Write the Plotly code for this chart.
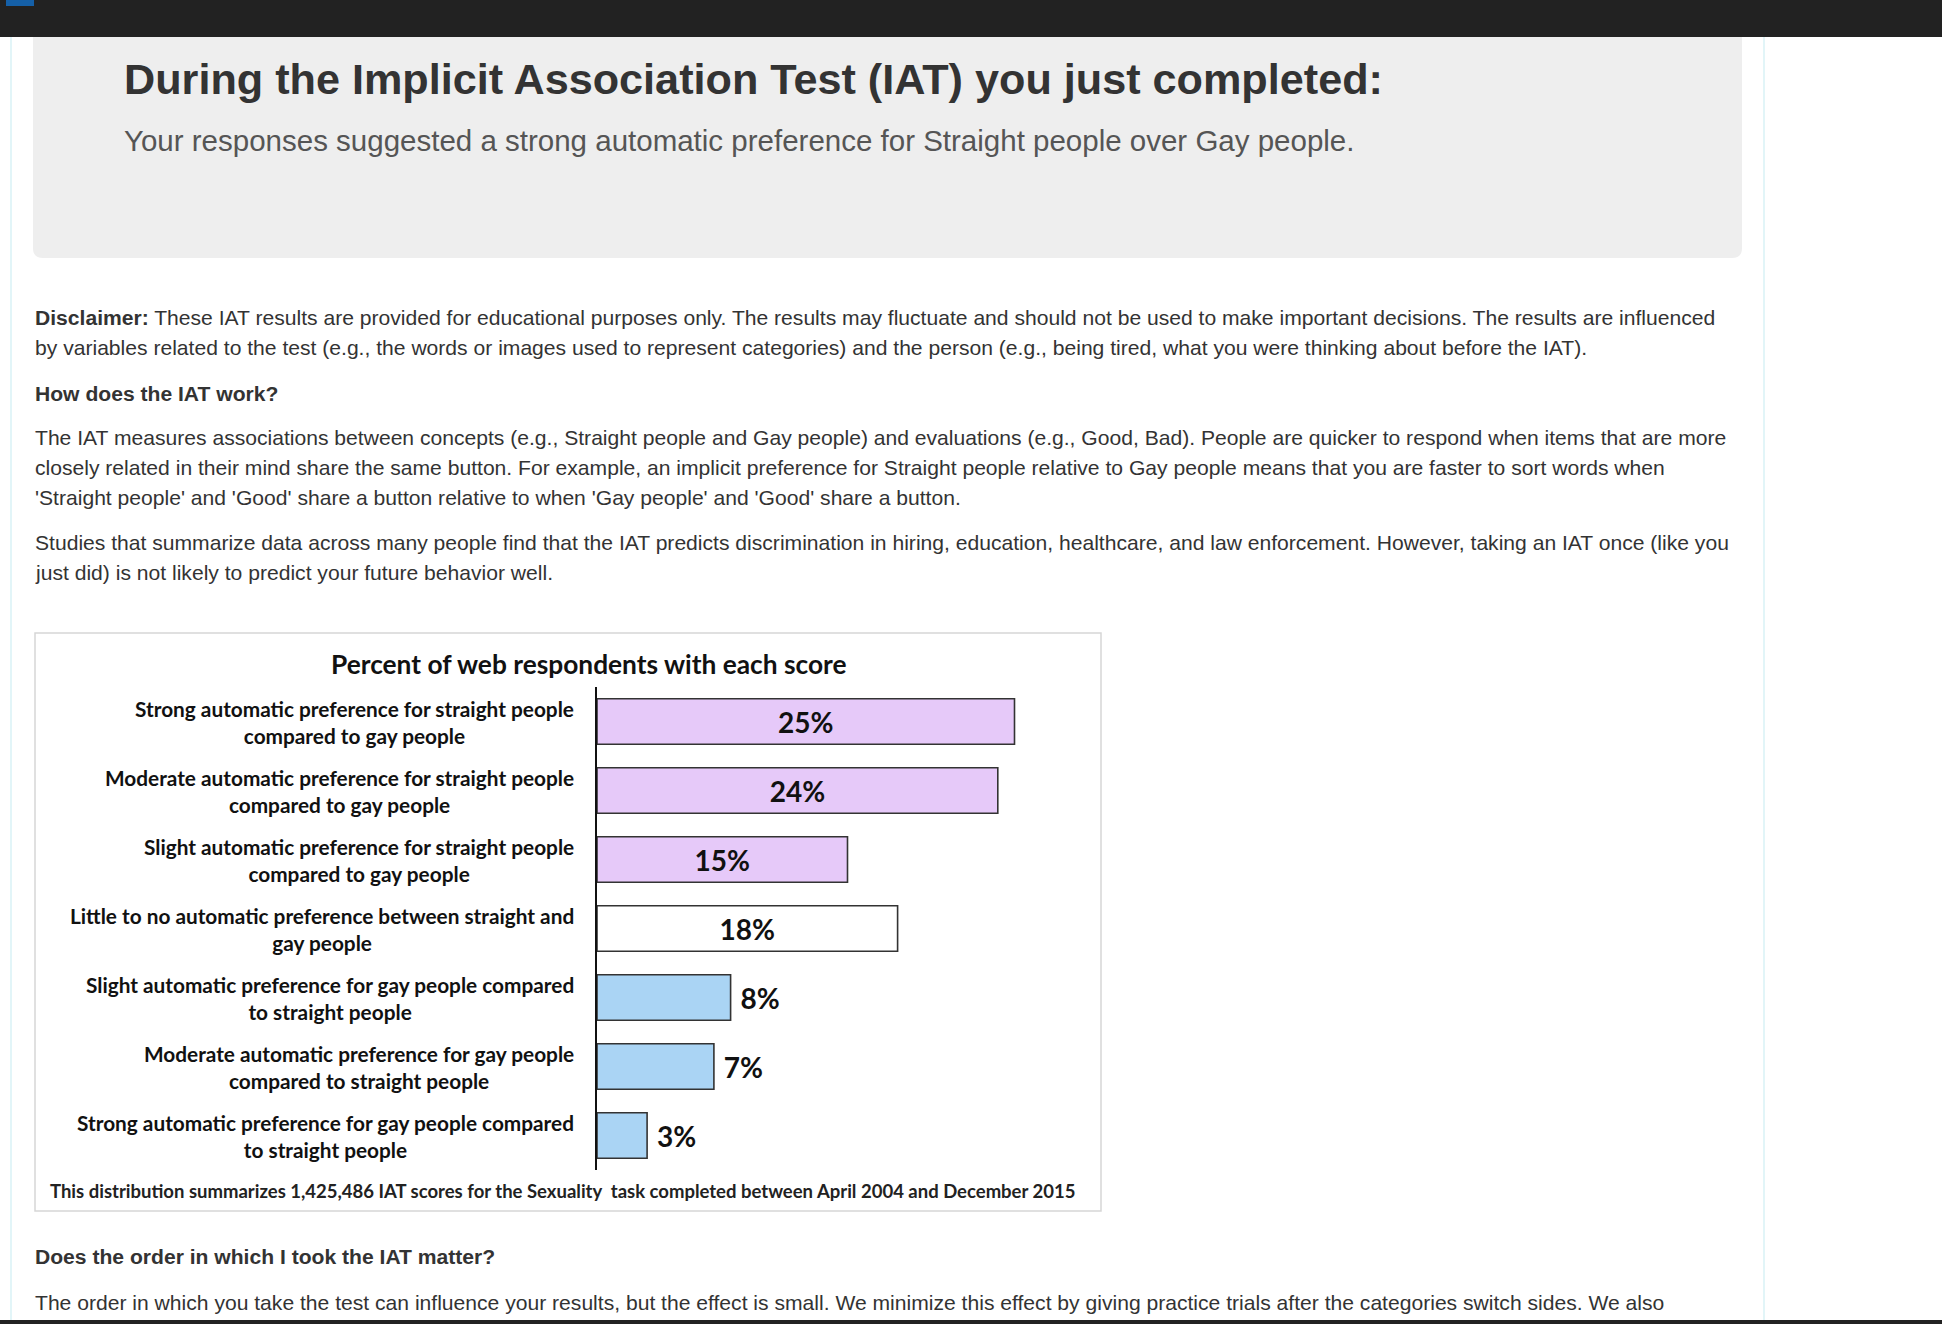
import plotly.graph_objects as go

W, H = 1942, 1324

# chart data
categories = ["s_str", "m_str", "sl_str", "none", "sl_gay", "m_gay", "s_gay"]
category_labels = [
    "Strong automatic preference for straight people<br>compared to gay people",
    "Moderate automatic preference for straight people<br>compared to gay people",
    "Slight automatic preference for straight people<br>compared to gay people",
    "Little to no automatic preference between straight and<br>gay people",
    "Slight automatic preference for gay people compared<br>to straight people",
    "Moderate automatic preference for gay people<br>compared to straight people",
    "Strong automatic preference for gay people compared<br>to straight people",
]
percents = [25, 24, 15, 18, 8, 7, 3]
bar_colors = ["#e6c9f9", "#e6c9f9", "#e6c9f9", "#ffffff", "#aad4f4", "#aad4f4", "#aad4f4"]
label_pos = ["inside", "inside", "inside", "inside", "outside", "outside", "outside"]

chart_title = "Percent of web respondents with each score"
chart_note = ("This distribution summarizes 1,425,486 IAT scores for the Sexuality  task "
              "completed between April 2004 and December 2015")

# page text
page_title = "During the Implicit Association Test (IAT) you just completed:"
page_subtitle = "Your responses suggested a strong automatic preference for Straight people over Gay people."
body_lines = [
    (317, "<b>Disclaimer:</b> These IAT results are provided for educational purposes only. The results may "
          "fluctuate and should not be used to make important decisions. The results are influenced"),
    (347, "by variables related to the test (e.g., the words or images used to represent categories) and the "
          "person (e.g., being tired, what you were thinking about before the IAT)."),
    (393, "<b>How does the IAT work?</b>"),
    (437, "The IAT measures associations between concepts (e.g., Straight people and Gay people) and "
          "evaluations (e.g., Good, Bad). People are quicker to respond when items that are more"),
    (467, "closely related in their mind share the same button. For example, an implicit preference for "
          "Straight people relative to Gay people means that you are faster to sort words when"),
    (497, "'Straight people' and 'Good' share a button relative to when 'Gay people' and 'Good' share a button."),
    (542, "Studies that summarize data across many people find that the IAT predicts discrimination in hiring, "
          "education, healthcare, and law enforcement. However, taking an IAT once (like you"),
    (572, "just did) is not likely to predict your future behavior well."),
    (1256, "<b>Does the order in which I took the IAT matter?</b>"),
    (1302, "The order in which you take the test can influence your results, but the effect is small. We "
           "minimize this effect by giving practice trials after the categories switch sides. We also"),
]

BODY_FONT = "Liberation Sans, Arial, sans-serif"
CHART_FONT = "Lato, Open Sans, sans-serif"


def px(x):
    return x / W


def py(y):
    return 1 - y / H


def rect(x0, y0, x1, y1, fill, line=None, lw=0):
    return dict(type="rect", xref="paper", yref="paper",
                x0=px(x0), x1=px(x1), y0=py(y0), y1=py(y1),
                fillcolor=fill, line=dict(color=line or fill, width=lw), layer="below")


# small bars get their label outside, pushed a bit away from the bar end
bar_text = [f"<b>{p}%</b>" if pos == "inside" else f"<b>\u00a0{p}%</b>"
            for p, pos in zip(percents, label_pos)]

fig = go.Figure()
fig.add_trace(go.Bar(
    x=percents, y=categories, orientation="h", width=0.66,
    marker=dict(color=bar_colors, line=dict(color="#333333", width=1.6)),
    text=bar_text, textposition=label_pos,
    insidetextanchor="middle", textangle=0, cliponaxis=False,
    textfont=dict(family=CHART_FONT, size=28, color="#111111"),
    hoverinfo="skip",
))

# bar area: 16.7 px per percent, axis line at x=597
x0_px = 597
fig.update_xaxes(range=[0, 30], domain=[px(x0_px), px(x0_px + 30 * 16.7)], visible=False)
fig.update_yaxes(range=[6.5, -0.5], domain=[py(1170), py(687)], showticklabels=False,
                 showgrid=False, zeroline=False, showline=True, linecolor="#111111", linewidth=1.5,
                 ticks="")

shapes = [
    rect(0, 0, W, 37, "#222222"),
    rect(6, 0, 34, 6, "#1560a8"),
    rect(0, 1320, W, H, "#222222"),
    dict(type="line", xref="paper", yref="paper", x0=px(11), x1=px(11), y0=py(37), y1=py(1320),
         line=dict(color="#cfeef4", width=1.2), layer="below"),
    dict(type="line", xref="paper", yref="paper", x0=px(1764), x1=px(1764), y0=py(37), y1=py(1320),
         line=dict(color="#cfeef4", width=1.2), layer="below"),
    # grey jumbotron with rounded bottom corners
    dict(type="path", xref="paper", yref="paper", layer="below", fillcolor="#eeeeee",
         line=dict(color="#eeeeee", width=0),
         path=(f"M {px(33)},{py(37)} L {px(1742)},{py(37)} L {px(1742)},{py(248)} "
               f"Q {px(1742)},{py(258)} {px(1732)},{py(258)} L {px(43)},{py(258)} "
               f"Q {px(33)},{py(258)} {px(33)},{py(248)} Z")),
    rect(35, 633, 1101, 1211, "rgba(0,0,0,0)", "#d6d6d6", 1.5),
]

annotations = [
    dict(text=f"<b>{page_title}</b>", x=px(122), y=py(79), xref="paper", yref="paper",
         xanchor="left", yanchor="middle", showarrow=False,
         font=dict(family=BODY_FONT, size=43.2, color="#333333")),
    dict(text=page_subtitle, x=px(122), y=py(140), xref="paper", yref="paper",
         xanchor="left", yanchor="middle", showarrow=False,
         font=dict(family=BODY_FONT, size=29.5, color="#555555")),
    dict(text=f"<b>{chart_title}</b>", x=px(589), y=py(664), xref="paper", yref="paper",
         xanchor="center", yanchor="middle", showarrow=False,
         font=dict(family=CHART_FONT, size=26.3, color="#111111")),
    dict(text=f"<b>{chart_note}</b>", x=px(48), y=py(1191), xref="paper", yref="paper",
         xanchor="left", yanchor="middle", showarrow=False,
         font=dict(family=CHART_FONT, size=18.5, color="#222222")),
]
for y, line in body_lines:
    annotations.append(dict(text=line, x=px(33), y=py(y), xref="paper", yref="paper",
                            xanchor="left", yanchor="middle", showarrow=False,
                            font=dict(family=BODY_FONT, size=21.1, color="#333333")))
for cat, lab in zip(categories, category_labels):
    annotations.append(dict(text=f"<b>{lab}</b>", x=px(576), y=cat, xref="paper", yref="y",
                            xanchor="right", yanchor="middle", align="center", showarrow=False,
                            font=dict(family=CHART_FONT, size=20.8, color="#111111")))

fig.update_layout(
    width=W, height=H, margin=dict(l=0, r=0, t=0, b=0),
    paper_bgcolor="white", plot_bgcolor="rgba(0,0,0,0)",
    showlegend=False, shapes=shapes, annotations=annotations,
)

fig.write_html("out.html", config={"displayModeBar": False},
               post_script="document.body.style.margin = '0';")
